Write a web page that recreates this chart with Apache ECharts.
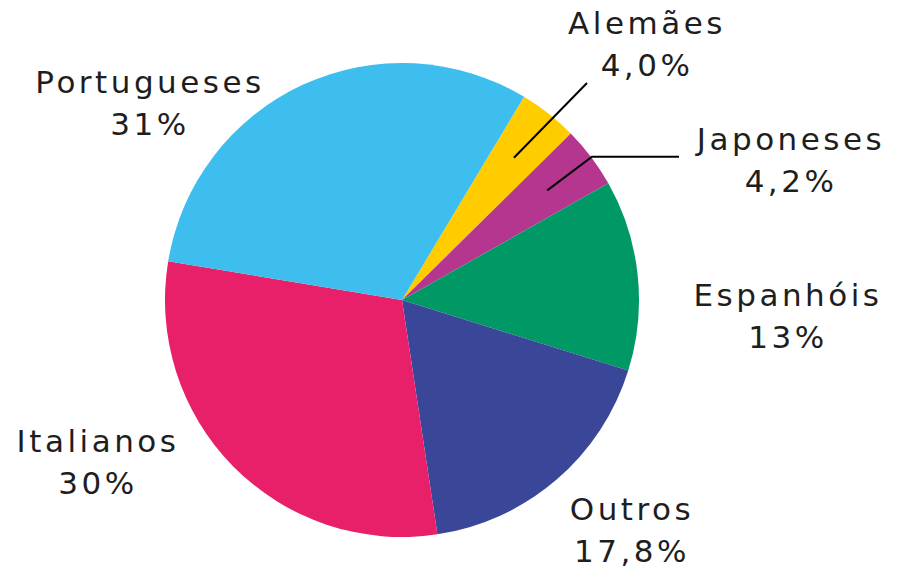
<!DOCTYPE html>
<html>
<head>
<meta charset="utf-8">
<script src="https://cdn.jsdelivr.net/npm/echarts@6/dist/echarts.min.js"></script>
<style>
  html, body { margin: 0; padding: 0; background: #fff; }
  #chart { width: 902px; height: 585px; }
  #chart text { letter-spacing: 3.5px; }
</style>
</head>
<body>
<div id="chart"></div>
<script>
// ---- data ----
const categories = ['Alemães', 'Japoneses', 'Espanhóis', 'Outros', 'Italianos', 'Portugueses'];
const values = [4.0, 4.2, 13, 17.8, 30, 31];
const valueLabels = ['4,0%', '4,2%', '13%', '17,8%', '30%', '31%'];

// ---- styling / layout ----
const colors = ['#FFCC00', '#B5368E', '#009966', '#3A4799', '#E8206A', '#3DBEEE'];
const CX = 402, CY = 300, R = 237;
const START_FROM_TOP = 31; // degrees clockwise from 12 o'clock where first slice begins
const labelCenters = [[647, 44], [791, 160], [788, 316], [632, 530], [98, 462], [150, 103]];
const leadLines = {
  0: { innerR: 181, end: [587, 83] },
  1: { innerR: 182, edgeR: 238, endX: 679 }
};

const total = values.reduce((a, b) => a + b, 0);
function midAngle(i) {
  let cum = 0;
  for (let k = 0; k < i; k++) cum += values[k];
  return (START_FROM_TOP + 360 * (cum + values[i] / 2) / total) * Math.PI / 180;
}
function polar(a, r) { return [CX + r * Math.sin(a), CY - r * Math.cos(a)]; }

const guideGraphics = Object.keys(leadLines).map(k => {
  const i = +k, ll = leadLines[k];
  const a = midAngle(i);
  const inner = polar(a, ll.innerR);
  let pts;
  if (ll.end) {
    pts = [inner, ll.end];
  } else {
    const edge = polar(a, ll.edgeR);
    pts = [inner, edge, [ll.endX, edge[1]]];
  }
  return {
    type: 'polyline',
    z: 100,
    silent: true,
    shape: { points: pts },
    style: { stroke: '#000', lineWidth: 2, fill: null }
  };
});

const chart = echarts.init(document.getElementById('chart'), null, { renderer: 'svg' });
chart.setOption({
  animation: false,
  backgroundColor: '#ffffff',
  graphic: guideGraphics,
  series: [{
    type: 'pie',
    center: [CX, CY],
    radius: R,
    startAngle: 90 - START_FROM_TOP,
    clockwise: true,
    silent: true,
    avoidLabelOverlap: false,
    itemStyle: { borderWidth: 0 },
    emphasis: { disabled: true },
    label: {
      show: true,
      position: 'outside',
      color: '#1e1e1e',
      fontFamily: 'DejaVu Sans',
      fontSize: 31,
      lineHeight: 42,
      align: 'center',
      formatter: p => p.name + '\n' + valueLabels[p.dataIndex]
    },
    labelLine: { show: false },
    labelLayout: function (params) {
      const i = params.dataIndex;
      return { x: labelCenters[i][0], y: labelCenters[i][1], align: 'center', verticalAlign: 'middle' };
    },
    data: categories.map((name, i) => ({
      name: name,
      value: values[i],
      itemStyle: { color: colors[i] }
    }))
  }]
});
</script>
</body>
</html>
